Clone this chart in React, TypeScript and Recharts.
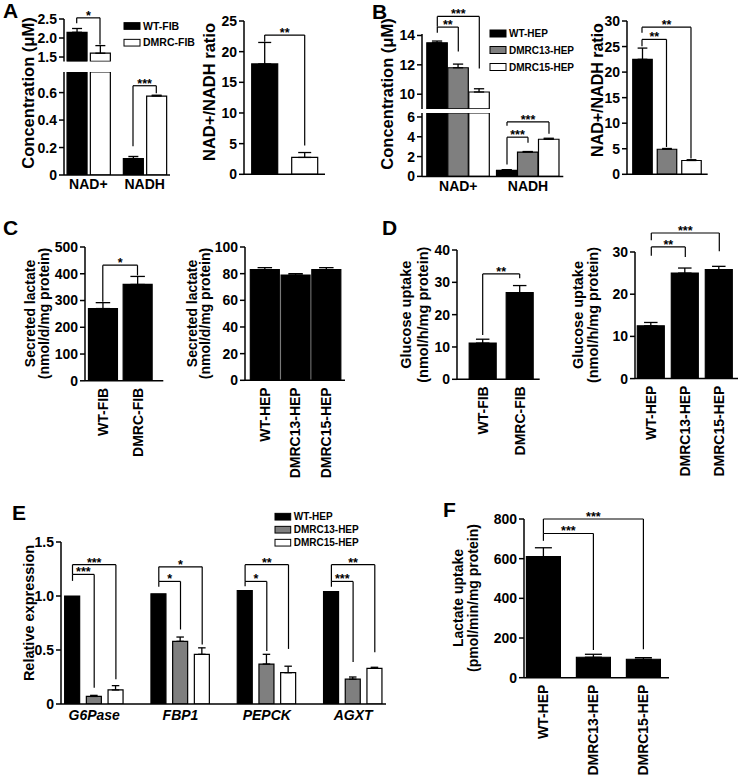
import React from "react";
import { BarChart, Bar, XAxis, YAxis, Cell, ErrorBar, ReferenceLine } from "recharts";

const FONT = '"Liberation Sans", Arial, Helvetica, sans-serif';
const BLACK = "#000000";
const GRAY = "#7f7f7f";
const WHITE = "#ffffff";
const FIB_FILLS = [BLACK, WHITE];
const HEP_FILLS = [BLACK, GRAY, WHITE];
const SOLID = [BLACK, BLACK, BLACK];

// ---- A: fibroblasts ----
const NAD_GROUPS = ["NAD+", "NADH"];
const FIB_NAMES = ["WT-FIB", "DMRC-FIB"];
const A_WT_FIB = [2.15, 0.12];
const A_WT_FIB_SEM = [0.1, 0.015];
const A_DMRC_FIB = [1.6, 0.575];
const A_DMRC_FIB_SEM = [0.2, 0.006];
const A_RATIO = [18, 2.75];
const A_RATIO_SEM = [3.5, 0.8];

// ---- B: hepatocytes ----
const HEP_NAMES = ["WT-HEP", "DMRC13-HEP", "DMRC15-HEP"];
const B_WT_HEP = [13.5, 0.6];
const B_WT_HEP_SEM = [0.12, 0.08];
const B_DMRC13_HEP = [11.8, 2.45];
const B_DMRC13_HEP_SEM = [0.25, 0.06];
const B_DMRC15_HEP = [10.15, 3.75];
const B_DMRC15_HEP_SEM = [0.22, 0.1];
const B_RATIO = [22.5, 4.9, 2.7];
const B_RATIO_SEM = [2.2, 0.15, 0.15];

// ---- C: secreted lactate ----
const C_FIB = [270, 360];
const C_FIB_SEM = [22, 30];
const C_HEP = [83, 79, 83];
const C_HEP_SEM = [1.5, 1, 1.5];

// ---- D: glucose uptake ----
const D_FIB = [11.2, 26.8];
const D_FIB_SEM = [1.2, 2.2];
const D_HEP = [12.5, 25, 25.8];
const D_HEP_SEM = [0.8, 1.2, 0.8];

// ---- E: gluconeogenic genes ----
const E_GENES = ["G6Pase", "FBP1", "PEPCK", "AGXT"];
const E_WT_HEP = [1.0, 1.02, 1.05, 1.04];
const E_WT_HEP_SEM = [0, 0, 0, 0];
const E_DMRC13_HEP = [0.07, 0.58, 0.37, 0.23];
const E_DMRC13_HEP_SEM = [0.01, 0.04, 0.09, 0.02];
const E_DMRC15_HEP = [0.13, 0.46, 0.29, 0.33];
const E_DMRC15_HEP_SEM = [0.04, 0.06, 0.06, 0.01];

// ---- F: lactate uptake ----
const F_HEP = [610, 103, 93];
const F_HEP_SEM = [45, 15, 8];

// significance brackets (group, bar a, bar b, line level, end levels, stars)
type Bracket = { g?: number; a: number; b: number; top: number; endA: number; endB: number; stars: string };
const A_UPPER_BRACKETS: Bracket[] = [{ g: 0, a: 0, b: 1, top: 2.53, endA: 2.39, endB: 1.83, stars: "*" }];
const A_LOWER_BRACKETS: Bracket[] = [{ g: 1, a: 0, b: 1, top: 0.65, endA: 0.21, endB: 0.595, stars: "***" }];
const A_RATIO_BRACKETS: Bracket[] = [{ a: 0, b: 1, top: 22.7, endA: 21.6, endB: 4.7, stars: "**" }];
const B_UPPER_BRACKETS: Bracket[] = [
  { g: 0, a: 0, b: 1, top: 14.57, endA: 14.18, endB: 12.9, stars: "**" },
  { g: 0, a: 0, b: 2, top: 15.3, endA: 14.6, endB: 11.75, stars: "***" },
];
const B_LOWER_BRACKETS: Bracket[] = [
  { g: 1, a: 0, b: 1, top: 3.96, endA: 1.2, endB: 3.4, stars: "***" },
  { g: 1, a: 0, b: 2, top: 5.5, endA: 5.1, endB: 4.3, stars: "***" },
];
const B_RATIO_BRACKETS: Bracket[] = [
  { a: 0, b: 1, top: 26.4, endA: 25.05, endB: 5.35, stars: "**" },
  { a: 0, b: 2, top: 28.8, endA: 27.7, endB: 3.1, stars: "**" },
];
const C_FIB_BRACKETS: Bracket[] = [{ a: 0, b: 1, top: 432, endA: 295, endB: 394, stars: "*" }];
const D_FIB_BRACKETS: Bracket[] = [{ a: 0, b: 1, top: 32.6, endA: 13.7, endB: 31.3, stars: "**" }];
const D_HEP_BRACKETS: Bracket[] = [
  { a: 0, b: 1, top: 31.2, endA: 29.1, endB: 28.8, stars: "**" },
  { a: 0, b: 2, top: 34.5, endA: 32.8, endB: 30.2, stars: "***" },
];
const E_BRACKETS: Bracket[] = [
  { g: 0, a: 0, b: 1, top: 1.2, endA: 1.14, endB: 0.15, stars: "***" },
  { g: 0, a: 0, b: 2, top: 1.29, endA: 1.2, endB: 0.23, stars: "***" },
  { g: 1, a: 0, b: 1, top: 1.135, endA: 1.085, endB: 0.69, stars: "*" },
  { g: 1, a: 0, b: 2, top: 1.27, endA: 1.135, endB: 0.55, stars: "*" },
  { g: 2, a: 0, b: 1, top: 1.135, endA: 1.09, endB: 0.49, stars: "*" },
  { g: 2, a: 0, b: 2, top: 1.29, endA: 1.135, endB: 0.51, stars: "**" },
  { g: 3, a: 0, b: 1, top: 1.135, endA: 1.085, endB: 0.39, stars: "***" },
  { g: 3, a: 0, b: 2, top: 1.29, endA: 1.135, endB: 0.48, stars: "**" },
];
const F_BRACKETS: Bracket[] = [
  { a: 0, b: 1, top: 727, endA: 690, endB: 140, stars: "***" },
  { a: 0, b: 2, top: 800, endA: 727, endB: 143, stars: "***" },
];

const AXIS = { stroke: "#000", strokeWidth: 1.5 };
const range = (lo: number, hi: number, step: number) => {
  const out: number[] = [];
  for (let v = lo; v <= hi + 1e-9; v += step) out.push(+v.toFixed(4));
  return out;
};

// geometry in page pixels: y axis x, baseline end, plot top/bottom, first bar centre offset, bar pitch, group pitch
type Geo = { axisX: number; x1: number; yTop: number; yBot: number; first: number; slot: number; group?: number; bar: number };

type PanelProps = {
  geo: Geo;
  series: number[][];
  sems: number[][];
  fills: string[];
  domain: [number, number];
  yTicks: number[];
  digits?: number;
  brackets?: Bracket[];
  xMode: "hidden" | "line" | "groups" | "bars";
  xLabels?: string[];
  italic?: boolean;
  xGap?: number;
};

function Panel({ geo, series, sems, fills, domain, yTicks, digits = 0, brackets = [], xMode, xLabels = [], italic = false, xGap = 5 }: PanelProps) {
  const YW = 60;
  const MT = 36;
  const MR = 4;
  const MB = xMode === "hidden" ? 8 : 0;
  const xH = xMode === "hidden" ? 0 : xMode === "bars" ? 110 : xMode === "groups" ? 28 : 10;
  const plotW = geo.x1 - geo.axisX;
  const plotH = geo.yBot - geo.yTop;
  const step = (geo.group ?? geo.slot) / geo.slot;
  const pos = (g: number, i: number) => g * step + i;
  const [lo, hi] = domain;

  // broken axis: a bar taller than this segment stops at its top edge
  const data = series[0].flatMap((_, g) =>
    series.map((vals, i) => {
      const v = vals[g];
      const e = sems[i][g];
      const shown = v > lo;
      return {
        pos: pos(g, i),
        v: shown ? Math.min(v, hi) : null,
        e: shown && e > 0 && v + e <= hi ? [0, e] : null,
        s: i,
      };
    })
  );
  const xTicks =
    xMode === "groups"
      ? series[0].map((_, g) => pos(g, (series.length - 1) / 2))
      : xMode === "bars"
      ? data.map((d) => d.pos)
      : undefined;

  const fmt = (v: number) => (v === 0 ? "0" : v.toFixed(digits));

  const tick =
    xMode === "groups"
      ? (p: any) => (
          <text x={p.x} y={p.y} dy="0.71em" textAnchor="middle" fontSize={14} fontWeight="bold" fontStyle={italic ? "italic" : "normal"} fill="#000">
            {xLabels[p.index]}
          </text>
        )
      : xMode === "bars"
      ? (p: any) => (
          <text x={p.x} y={p.y} dy="0.36em" textAnchor="end" transform={`rotate(-90 ${p.x} ${p.y})`} fontSize={14} fontWeight="bold" fill="#000">
            {xLabels[p.index]}
          </text>
        )
      : false;

  const starLabel = (s: string) => (p: any) => {
    const vb = p.viewBox;
    if (!vb) return null;
    return (
      <text x={vb.x + (vb.width || 0) / 2} y={vb.y + 2} textAnchor="middle" fontSize={12.5} fontWeight="bold" fill="#000">
        {s}
      </text>
    );
  };

  return (
    <div style={{ position: "absolute", left: geo.axisX - YW, top: geo.yTop - MT }}>
      <BarChart width={YW + plotW + MR} height={MT + plotH + xH + MB} data={data} margin={{ top: MT, right: MR, bottom: MB, left: 0 }}>
        <XAxis
          type="number"
          dataKey="pos"
          domain={[-geo.first / geo.slot, (plotW - geo.first) / geo.slot]}
          allowDataOverflow
          tickCount={2}
          ticks={xTicks}
          interval={0}
          hide={xMode === "hidden"}
          height={xH}
          axisLine={AXIS}
          tickLine={false}
          tickSize={0}
          tickMargin={xGap}
          tick={tick}
        />
        <YAxis
          type="number"
          domain={domain}
          allowDataOverflow
          ticks={yTicks}
          interval={0}
          width={YW}
          tickSize={5}
          tickMargin={2}
          axisLine={AXIS}
          tickLine={AXIS}
          tick={{ fill: "#000", fontSize: 14, fontWeight: "bold" }}
          tickFormatter={fmt}
        />
        <Bar dataKey="v" barSize={geo.bar} isAnimationActive={false}>
          {data.map((d, k) => (
            <Cell key={k} fill={fills[d.s]} stroke="#000" strokeWidth={1.2} />
          ))}
          <ErrorBar dataKey="e" width={geo.bar / 4} stroke="#000" strokeWidth={1.3} direction="y" isAnimationActive={false} />
        </Bar>
        {brackets.flatMap((b, k) => {
          const xa = pos(b.g ?? 0, b.a);
          const xb = pos(b.g ?? 0, b.b);
          const line = { ifOverflow: "visible" as const, stroke: "#000", strokeWidth: 1.2 };
          return [
            <ReferenceLine key={`h${k}`} segment={[{ x: xa, y: b.top }, { x: xb, y: b.top }]} {...line} label={starLabel(b.stars)} />,
            <ReferenceLine key={`a${k}`} segment={[{ x: xa, y: b.top }, { x: xa, y: b.endA }]} {...line} />,
            <ReferenceLine key={`b${k}`} segment={[{ x: xb, y: b.top }, { x: xb, y: b.endB }]} {...line} />,
          ];
        })}
      </BarChart>
    </div>
  );
}

function VTitle({ lines, xs, cy, fs }: { lines: string[]; xs: number[]; cy: number; fs: number }) {
  return (
    <>
      {lines.map((t, i) => (
        <text key={i} transform={`translate(${xs[i]} ${cy}) rotate(-90)`} textAnchor="middle" dy="0.36em" fontSize={fs} fontWeight="bold" fill="#000">
          {t}
        </text>
      ))}
    </>
  );
}

function Legend({ x, ys, names, fills, fs, w, h }: { x: number; ys: number[]; names: string[]; fills: string[]; fs: number; w: number; h: number }) {
  return (
    <>
      {names.map((n, i) => (
        <g key={n}>
          <rect x={x} y={ys[i] - h / 2} width={w} height={h} fill={fills[i]} stroke="#000" strokeWidth={1} />
          <text x={x + w + 3} y={ys[i]} dy="0.36em" fontSize={fs} fontWeight="bold" fill="#000">
            {n}
          </text>
        </g>
      ))}
    </>
  );
}

const LETTER = { fontSize: 21, fontWeight: "bold" as const, fill: "#000" };

export default function App() {
  const aGeo = { axisX: 64, x1: 170, first: 12.7, slot: 23.3, group: 56.3, bar: 20 };
  const bGeo = { axisX: 421.7, x1: 563, first: 15.3, slot: 21, group: 69.7, bar: 20.5 };
  return (
    <div style={{ position: "absolute", left: 0, top: 0, width: 745, height: 778, background: "#fff", fontFamily: FONT, overflow: "hidden" }}>
      {/* A */}
      <Panel geo={{ ...aGeo, yTop: 19.3, yBot: 61.7 }} series={[A_WT_FIB, A_DMRC_FIB]} sems={[A_WT_FIB_SEM, A_DMRC_FIB_SEM]} fills={FIB_FILLS}
        domain={[1.385, 2.5]} yTicks={[1.5, 2, 2.5]} digits={1} brackets={A_UPPER_BRACKETS} xMode="hidden" />
      <Panel geo={{ ...aGeo, yTop: 72, yBot: 175 }} series={[A_WT_FIB, A_DMRC_FIB]} sems={[A_WT_FIB_SEM, A_DMRC_FIB_SEM]} fills={FIB_FILLS}
        domain={[0, 0.75]} yTicks={[0, 0.2, 0.4, 0.6]} digits={1} brackets={A_LOWER_BRACKETS} xMode="groups" xLabels={NAD_GROUPS} xGap={4} />
      <Panel geo={{ axisX: 244, x1: 325, yTop: 20.7, yBot: 174, first: 20.7, slot: 40, bar: 26 }} series={A_RATIO.map((v) => [v])} sems={A_RATIO_SEM.map((v) => [v])}
        fills={FIB_FILLS} domain={[0, 25]} yTicks={range(0, 25, 5)} brackets={A_RATIO_BRACKETS} xMode="line" />

      {/* B */}
      <Panel geo={{ ...bGeo, yTop: 33.7, yBot: 108.6 }} series={[B_WT_HEP, B_DMRC13_HEP, B_DMRC15_HEP]} sems={[B_WT_HEP_SEM, B_DMRC13_HEP_SEM, B_DMRC15_HEP_SEM]}
        fills={HEP_FILLS} domain={[9.0, 14.1]} yTicks={[10, 12, 14]} brackets={B_UPPER_BRACKETS} xMode="hidden" />
      <Panel geo={{ ...bGeo, yTop: 113.1, yBot: 176.5 }} series={[B_WT_HEP, B_DMRC13_HEP, B_DMRC15_HEP]} sems={[B_WT_HEP_SEM, B_DMRC13_HEP_SEM, B_DMRC15_HEP_SEM]}
        fills={HEP_FILLS} domain={[0, 6.4]} yTicks={[0, 2, 4, 6]} brackets={B_LOWER_BRACKETS} xMode="groups" xLabels={NAD_GROUPS} />
      <Panel geo={{ axisX: 627.3, x1: 708, yTop: 20.7, yBot: 174, first: 15, slot: 24.5, bar: 19.5 }} series={B_RATIO.map((v) => [v])} sems={B_RATIO_SEM.map((v) => [v])}
        fills={HEP_FILLS} domain={[0, 30]} yTicks={range(0, 30, 5)} brackets={B_RATIO_BRACKETS} xMode="line" />

      {/* C */}
      <Panel geo={{ axisX: 85, x1: 163.3, yTop: 246.7, yBot: 380.5, first: 17.8, slot: 34.7, bar: 29 }} series={C_FIB.map((v) => [v])} sems={C_FIB_SEM.map((v) => [v])}
        fills={SOLID} domain={[0, 500]} yTicks={range(0, 500, 100)} brackets={C_FIB_BRACKETS} xMode="bars" xLabels={FIB_NAMES} xGap={7} />
      <Panel geo={{ axisX: 245, x1: 345, yTop: 246.7, yBot: 380, first: 19.7, slot: 30.75, bar: 29 }} series={C_HEP.map((v) => [v])} sems={C_HEP_SEM.map((v) => [v])}
        fills={SOLID} domain={[0, 100]} yTicks={range(0, 100, 20)} xMode="bars" xLabels={HEP_NAMES} xGap={7} />

      {/* D */}
      <Panel geo={{ axisX: 457.3, x1: 540, yTop: 250, yBot: 379.3, first: 25.7, slot: 37, bar: 27 }} series={D_FIB.map((v) => [v])} sems={D_FIB_SEM.map((v) => [v])}
        fills={SOLID} domain={[0, 40]} yTicks={range(0, 40, 10)} brackets={D_FIB_BRACKETS} xMode="bars" xLabels={FIB_NAMES} xGap={7} />
      <Panel geo={{ axisX: 635, x1: 738, yTop: 251.7, yBot: 378.3, first: 16.3, slot: 34, bar: 27 }} series={D_HEP.map((v) => [v])} sems={D_HEP_SEM.map((v) => [v])}
        fills={SOLID} domain={[0, 30]} yTicks={range(0, 30, 10)} brackets={D_HEP_BRACKETS} xMode="bars" xLabels={HEP_NAMES} xGap={7} />

      {/* E */}
      <Panel geo={{ axisX: 61, x1: 386, yTop: 542.3, yBot: 704.3, first: 11.5, slot: 21.7, group: 86.3, bar: 15 }}
        series={[E_WT_HEP, E_DMRC13_HEP, E_DMRC15_HEP]} sems={[E_WT_HEP_SEM, E_DMRC13_HEP_SEM, E_DMRC15_HEP_SEM]} fills={HEP_FILLS}
        domain={[0, 1.5]} yTicks={[0, 0.5, 1, 1.5]} digits={1} brackets={E_BRACKETS} xMode="groups" xLabels={E_GENES} italic xGap={6} />

      {/* F */}
      <Panel geo={{ axisX: 524.3, x1: 669.3, yTop: 519, yBot: 677.7, first: 19.4, slot: 50, bar: 34 }} series={F_HEP.map((v) => [v])} sems={F_HEP_SEM.map((v) => [v])}
        fills={SOLID} domain={[0, 800]} yTicks={range(0, 800, 200)} brackets={F_BRACKETS} xMode="bars" xLabels={HEP_NAMES} xGap={7} />

      <svg width={745} height={778} style={{ position: "absolute", left: 0, top: 0, pointerEvents: "none" }}>
        <text x={3} y={18} {...LETTER}>A</text>
        <text x={372} y={18.5} {...LETTER}>B</text>
        <text x={3} y={235} {...LETTER}>C</text>
        <text x={382} y={235} {...LETTER}>D</text>
        <text x={12} y={520} {...LETTER}>E</text>
        <text x={443} y={516.5} {...LETTER}>F</text>

        <VTitle lines={["Concentration (μM)"]} xs={[28.5]} cy={93} fs={16.5} />
        <VTitle lines={["NAD+/NADH ratio"]} xs={[209]} cy={92} fs={16.5} />
        <VTitle lines={["Concentration (μM)"]} xs={[387.5]} cy={94} fs={16.5} />
        <VTitle lines={["NAD+/NADH ratio"]} xs={[597]} cy={90} fs={16} />
        <VTitle lines={["Secreted lactate", "(nmol/d/mg protein)"]} xs={[30, 43.5]} cy={313.5} fs={14} />
        <VTitle lines={["Secreted lactate", "(nmol/d/mg protein)"]} xs={[191.7, 205]} cy={313.5} fs={14} />
        <VTitle lines={["Glucose uptake", "(nmol/h/mg protein)"]} xs={[406, 422.5]} cy={314.7} fs={14.5} />
        <VTitle lines={["Glucose uptake", "(nmol/h/mg protein)"]} xs={[577.5, 593]} cy={315} fs={14.5} />
        <VTitle lines={["Relative expression"]} xs={[28.3]} cy={613} fs={14.5} />
        <VTitle lines={["Lactate uptake", "(pmol/min/mg protein)"]} xs={[457.5, 473.3]} cy={598} fs={14} />

        <Legend x={124} ys={[26, 42.7]} names={FIB_NAMES} fills={FIB_FILLS} fs={10.5} w={16} h={6.7} />
        <Legend x={490} ys={[33.5, 50, 67]} names={HEP_NAMES} fills={HEP_FILLS} fs={10} w={16} h={7} />
        <Legend x={275} ys={[516.7, 529.7, 542.7]} names={HEP_NAMES} fills={HEP_FILLS} fs={10} w={15.7} h={6.7} />
      </svg>
    </div>
  );
}
